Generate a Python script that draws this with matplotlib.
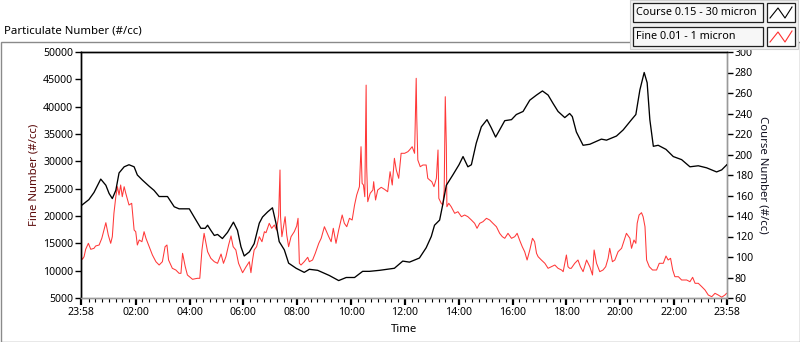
import matplotlib
matplotlib.use("Agg")
import matplotlib.pyplot as plt
from matplotlib.patches import Rectangle
from matplotlib.lines import Line2D
import numpy as np

plt.rcParams['font.family'] = ['Noto Sans', 'DejaVu Sans']

# ---------------- data (hours since 00:00; -0.033 = 23:58 previous day) -------------
coarse_hours = [-0.03, 0.26, 0.45, 0.70, 0.89, 1.01, 1.13, 1.26, 1.38, 1.57, 1.75, 1.94,
                2.06, 2.25, 2.50, 2.68, 2.87, 3.18, 3.43, 3.61, 3.99, 4.17, 4.42, 4.58,
                4.67, 4.79, 4.92, 5.04, 5.22, 5.41, 5.63, 5.78, 5.91, 6.03, 6.22, 6.40,
                6.59, 6.71, 6.90, 7.08, 7.21, 7.33, 7.52, 7.68, 7.96, 8.26, 8.45, 8.76,
                9.19, 9.54, 9.82, 10.13, 10.43, 10.68, 11.06, 11.61, 11.92, 12.17, 12.54,
                12.79, 12.98, 13.10, 13.29, 13.39, 13.54, 13.78, 14.01, 14.16, 14.34,
                14.47, 14.65, 14.84, 15.05, 15.21, 15.37, 15.52, 15.71, 15.96, 16.14,
                16.39, 16.64, 16.89, 17.11, 17.32, 17.50, 17.69, 17.94, 18.12, 18.22,
                18.37, 18.62, 18.87, 19.30, 19.49, 19.86, 20.11, 20.42, 20.58, 20.73,
                20.89, 21.00, 21.10, 21.23, 21.41, 21.70, 21.97, 22.28, 22.59, 22.90,
                23.21, 23.58, 23.77, 23.96]
coarse_vals = [150, 156, 163, 176, 170, 162, 157, 165, 182, 188, 190, 188,
               180, 175, 169, 165, 159, 159, 149, 147, 147, 139, 128, 128,
               131, 126, 121, 122, 118, 124, 134, 126, 110, 101, 105, 113,
               133, 139, 144, 148, 133, 115, 107, 94, 89, 85, 88, 87,
               82, 77, 80, 80, 86, 86, 87, 89, 96, 95, 99,
               109, 120, 131, 136, 149, 170, 180, 190, 198, 188,
               190, 211, 227, 234, 226, 217, 224, 233, 234, 239,
               242, 253, 258, 262, 258, 250, 242, 236, 240, 237,
               222, 209, 210, 215, 214, 218, 224, 234, 239, 263,
               280, 270, 234, 208, 209, 205, 198, 195, 188, 189,
               187, 183, 185, 190]

fine_hours = [-0.03, 0.02, 0.08, 0.14, 0.24, 0.33, 0.45, 0.51, 0.64, 0.74, 0.82, 0.89,
              0.98, 1.07, 1.13, 1.19, 1.26, 1.32, 1.38, 1.44, 1.50, 1.57, 1.63, 1.75,
              1.85, 1.94, 2.00, 2.06, 2.13, 2.23, 2.31, 2.38, 2.50, 2.62, 2.75, 2.87,
              2.99, 3.09, 3.16, 3.22, 3.36, 3.49, 3.61, 3.68, 3.74, 3.84, 3.92, 4.11,
              4.29, 4.38, 4.46, 4.54, 4.61, 4.67, 4.79, 4.92, 5.04, 5.17, 5.26, 5.35,
              5.45, 5.54, 5.62, 5.72, 5.82, 5.97, 6.10, 6.22, 6.28, 6.34, 6.40, 6.49,
              6.59, 6.69, 6.78, 6.84, 6.96, 7.05, 7.15, 7.23, 7.31, 7.36, 7.38, 7.43,
              7.49, 7.55, 7.61, 7.68, 7.77, 7.89, 7.98, 8.03, 8.08, 8.14, 8.26, 8.39,
              8.45, 8.57, 8.67, 8.80, 8.89, 9.01, 9.09, 9.17, 9.26, 9.34, 9.44, 9.54,
              9.67, 9.75, 9.84, 9.94, 10.04, 10.13, 10.21, 10.31, 10.37, 10.41, 10.46,
              10.51, 10.56, 10.58, 10.62, 10.71, 10.81, 10.84, 10.91, 10.99, 11.12,
              11.24, 11.36, 11.45, 11.53, 11.61, 11.68, 11.77, 11.86, 11.99, 12.11,
              12.17, 12.27, 12.36, 12.42, 12.44, 12.48, 12.57, 12.67, 12.79, 12.85,
              12.92, 13.00, 13.08, 13.17, 13.23, 13.26, 13.35, 13.41, 13.46, 13.50,
              13.54, 13.56, 13.63, 13.72, 13.85, 13.97, 14.10, 14.22, 14.34, 14.47,
              14.59, 14.68, 14.78, 14.90, 15.03, 15.15, 15.27, 15.40, 15.52, 15.62,
              15.71, 15.83, 15.96, 16.08, 16.17, 16.26, 16.36, 16.45, 16.54, 16.64,
              16.74, 16.82, 16.89, 16.95, 17.07, 17.20, 17.32, 17.44, 17.57, 17.69,
              17.82, 17.88, 17.94, 18.00, 18.06, 18.12, 18.18, 18.31, 18.43, 18.52,
              18.62, 18.75, 18.87, 18.97, 19.03, 19.12, 19.24, 19.36, 19.46, 19.55,
              19.61, 19.71, 19.80, 19.92, 20.05, 20.13, 20.23, 20.36, 20.42, 20.51,
              20.58, 20.63, 20.70, 20.79, 20.85, 20.92, 20.98, 21.08, 21.20, 21.35,
              21.45, 21.60, 21.70, 21.78, 21.87, 21.95, 22.03, 22.16, 22.28, 22.47,
              22.59, 22.69, 22.78, 22.90, 23.03, 23.15, 23.27, 23.40, 23.52, 23.64,
              23.77, 23.89, 23.95]
fine_vals = [12554, 12077, 12554, 13907, 15005, 13907, 14090, 14513, 14694, 15920, 17438, 18774,
             16525, 15005, 16213, 20493, 23530, 25359, 23841, 25670, 23530, 25359, 24152, 22011,
             22322, 17438, 17127, 14694, 15609, 15298, 17127, 15920, 14384, 12864, 11639, 11035,
             11639, 14384, 14694, 11950, 10431, 10121, 9516, 9516, 13175, 10723, 9206, 8420,
             8603, 8603, 13780, 16832, 15005, 13468, 12261, 11639, 11347, 13047, 11347, 12554,
             14694, 16352, 14384, 13780, 11347, 9626, 10723, 11639, 9634, 11950, 13780, 14384,
             16213, 15298, 17127, 16944, 18664, 17749, 18353, 17438, 20182, 28414, 19872, 16213,
             18042, 19872, 16525, 14384, 16213, 17127, 18170, 19579, 11347, 11035, 11639, 12444,
             11639, 11950, 13175, 15005, 15920, 18042, 17127, 16213, 15298, 17749, 15005, 17438,
             20182, 18664, 18042, 19579, 19267, 22011, 23841, 25359, 32677, 25981, 25670,
             23530, 43943, 29017, 22616, 24152, 24755, 26273, 22926, 24755, 25249,
             24883, 24444, 28102, 25670, 30554, 28414, 26896, 31469, 31469, 31762,
             32073, 32677, 31469, 45189, 38164, 30243, 29017, 29329, 29329, 26896,
             26585, 26273, 25359, 26896, 32073, 23237, 22322, 22011, 24755, 41823,
             32677, 21701, 22322, 21701, 20493, 20786, 19872, 20182, 19872, 19267,
             18664, 17749, 18664, 18957, 19579, 19267, 18664, 18042, 16832, 16213,
             15920, 16832, 15920, 16213, 16832, 15609, 14384, 13468, 11950, 13780,
             15920, 15298, 13175, 12554, 11950, 11347, 10431, 10723, 11035, 10431,
             10121, 9816, 11347, 12864, 10723, 10431, 10431, 11347, 11950, 10723,
             9816, 11950, 10723, 9206, 13780, 11347, 9816, 10121, 10723, 12261,
             14090, 11639, 11950, 13468, 14090, 15298, 16832, 15920, 14090, 15609,
             15005, 18664, 20182, 20605, 19872, 18042, 11950, 10723, 10121, 10121,
             11347, 11347, 12681, 11950, 12261, 10121, 8896, 8896, 8293, 8293,
             7981, 8786, 7688, 7688, 7066, 6462, 5548, 5237, 5857, 5548,
             5150, 5548, 5857]

time_tick_pos = [-2 / 60, 2, 4, 6, 8, 10, 12, 14, 16, 18, 20, 22, 24 - 2 / 60]
time_tick_labels = ['23:58', '02:00', '04:00', '06:00', '08:00', '10:00', '12:00',
                    '14:00', '16:00', '18:00', '20:00', '22:00', '23:58']
fine_ticks = list(range(5000, 50001, 5000))
coarse_ticks = list(range(60, 301, 20))

title = "Particulate Number (#/cc)"
coarse_name = "Course 0.15 - 30 micron"
fine_name = "Fine 0.01 - 1 micron"

# ---------------- figure -------------
W, H = 800, 342
fig = plt.figure(figsize=(W / 100, H / 100), dpi=100)
fig.patch.set_facecolor('white')


def fx(px):
    return px / W


def fy(py):
    return 1 - py / H


# outer gray frame of the graph panel
fig.add_artist(Rectangle((fx(0.5), fy(341.5)), fx(799), fy(42) - fy(341.5),
                         transform=fig.transFigure, facecolor='none',
                         edgecolor='#8a8a8a', lw=1.0))

# legend panel
fig.add_artist(Rectangle((fx(630), fy(49)), fx(168), fy(0) - fy(49),
                         transform=fig.transFigure, facecolor='#f0f0f0',
                         edgecolor='#d0d0d0', lw=0.8))
for i, (name, col) in enumerate([(coarse_name, 'black'), (fine_name, '#ff3030')]):
    top = 3 + i * 24
    fig.add_artist(Rectangle((fx(633), fy(top + 19)), fx(130), fy(top) - fy(top + 19),
                             transform=fig.transFigure, facecolor='#f7f7f7',
                             edgecolor='#202020', lw=0.9))
    fig.text(fx(636), fy(top + 9.5), name, fontsize=7.8, va='center', ha='left',
             color='black')
    fig.add_artist(Rectangle((fx(767), fy(top + 19)), fx(28), fy(top) - fy(top + 19),
                             transform=fig.transFigure, facecolor='white',
                             edgecolor='#202020', lw=0.9))
    zx = [fx(770), fx(778), fx(785), fx(792)]
    zy = [fy(top + 15), fy(top + 5), fy(top + 15), fy(top + 4)]
    fig.add_artist(Line2D(zx, zy, transform=fig.transFigure, color=col, lw=0.8))

fig.text(fx(4), fy(31), title, fontsize=8.2, ha='left', va='center', color='black')

ax = fig.add_axes([fx(81), fy(298), fx(727) - fx(81), fy(52) - fy(298)])
ax2 = ax.twinx()

ax.plot(fine_hours, fine_vals, color='#ff3838', lw=0.75, zorder=2)
ax2.plot(coarse_hours, coarse_vals, color='black', lw=0.95, zorder=3)

ax.set_xlim(time_tick_pos[0], time_tick_pos[-1])
ax.set_ylim(5000, 50000)
ax2.set_ylim(60, 300)

ax.set_yticks(fine_ticks)
ax.set_yticklabels([str(v) for v in fine_ticks])
ax2.set_yticks(coarse_ticks)
ax2.set_yticklabels([str(v) for v in coarse_ticks])
ax.set_xticks(time_tick_pos)
ax.set_xticklabels(time_tick_labels)
minor = [m for m in np.arange(0.25, 24, 0.25) if abs(m / 2 - round(m / 2)) > 1e-6]
ax.set_xticks(minor, minor=True)

ax.tick_params(axis='y', which='major', length=4, width=1.0, direction='out',
               labelsize=7.6, pad=1.5, colors='black')
ax2.tick_params(axis='y', which='major', length=4, width=1.0, direction='out',
                labelsize=7.6, pad=1.5, colors='black')
ax.tick_params(axis='x', which='major', length=5, width=1.6, direction='out',
               labelsize=7.6, pad=1.5)
ax.tick_params(axis='x', which='minor', length=3, width=0.8, direction='out')

for a in (ax, ax2):
    a.spines['left'].set_color('black')
    a.spines['top'].set_color('black')
    a.spines['right'].set_color('#9a9a9a')
    a.spines['bottom'].set_color('#9a9a9a')
    for s in a.spines.values():
        s.set_linewidth(1.0)

ax.set_xlabel('Time', fontsize=8.2, labelpad=4)
ax.set_ylabel('Fine Number (#/cc)', fontsize=8.2, color='#5a0808', labelpad=3)
ax2.set_ylabel('Course Number (#/cc)', fontsize=8.2, color='#101020', rotation=270,
               labelpad=11)

fig.savefig('out.png', dpi=100, facecolor='white')
